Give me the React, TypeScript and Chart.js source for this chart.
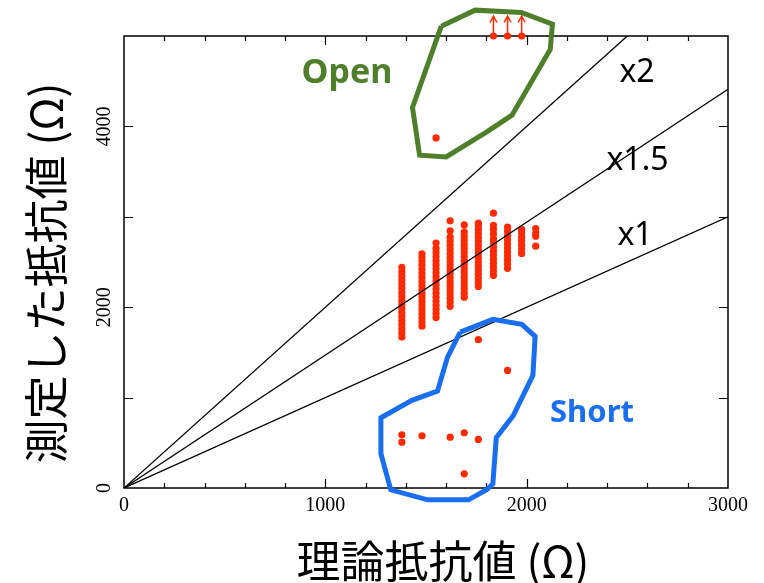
import React, { useEffect, useRef } from "react";
import { Chart, registerables } from "chart.js";

Chart.register(...registerables);

// ---- axis tick labels ----
const xTickLabels = [0, 1000, 2000, 3000];
const yTickLabels = [0, 2000, 4000];

// ---- reference ratio lines (measured = ratio × theoretical) ----
const ratioValues = [1, 1.47, 2];
const ratioNames = ["x1", "x1.5", "x2"];

// ---- measured resistance columns (theoretical Ω -> measured Ω list) ----
const columnX = [1380, 1480, 1550, 1620, 1690, 1760, 1835, 1905, 1975, 2045];
const col1380 = [1670, 1715, 1760, 1805, 1850, 1895, 1940, 1985, 2030, 2075, 2120, 2165, 2210, 2255, 2300, 2345, 2390, 2440];
const col1480 = [1790, 1835, 1880, 1925, 1970, 2015, 2060, 2105, 2150, 2195, 2240, 2285, 2330, 2375, 2420, 2465, 2510, 2550, 2590];
const col1550 = [1885, 1930, 1975, 2020, 2065, 2110, 2155, 2200, 2245, 2290, 2335, 2380, 2425, 2470, 2515, 2560, 2605, 2650, 2710];
const col1620 = [2010, 2055, 2100, 2145, 2190, 2235, 2280, 2325, 2370, 2415, 2460, 2505, 2550, 2595, 2640, 2685, 2730, 2775, 2845, 2955];
const col1690 = [2110, 2155, 2200, 2245, 2290, 2335, 2380, 2425, 2470, 2515, 2560, 2605, 2650, 2695, 2740, 2785, 2830, 2910];
const col1760 = [2230, 2275, 2320, 2365, 2410, 2455, 2500, 2545, 2590, 2635, 2680, 2725, 2770, 2815, 2860, 2900, 2930];
const col1835 = [2350, 2395, 2440, 2485, 2530, 2575, 2620, 2665, 2710, 2755, 2810, 2860, 2905, 3040];
const col1905 = [2430, 2475, 2520, 2565, 2610, 2655, 2700, 2745, 2790, 2840, 2885];
const col1975 = [2595, 2640, 2685, 2730, 2775, 2820, 2860];
const col2045 = [2675, 2785, 2820, 2870];
const columnValues = [col1380, col1480, col1550, col1620, col1690, col1760, col1835, col1905, col1975, col2045];

// ---- "Short" outliers ----
const shortX = [1760, 1905, 1380, 1380, 1480, 1620, 1690, 1760, 1690];
const shortY = [1641, 1301, 589, 507, 578, 562, 611, 537, 157];

// ---- "Open" outliers (values at 5000 are off-scale, shown with arrows) ----
const openX = [1550, 1835, 1905, 1975];
const openY = [3872, 5000, 5000, 5000];

// ---- group outlines ----
const openOutlineX = [1576, 1744, 1973, 2128, 2117, 1927, 1802, 1600, 1468, 1433];
const openOutlineY = [5109, 5286, 5261, 5131, 4851, 4124, 3939, 3662, 3681, 4209];
const shortOutlineX = [1670, 1832, 1976, 2042, 2031, 1934, 1849, 1832, 1801, 1711, 1508, 1325, 1276, 1276, 1430, 1557, 1607];
const shortOutlineY = [1725, 1865, 1810, 1677, 1245, 803, 556, 46, -20, -131, -131, -20, 379, 777, 969, 1072, 1448];

const RED = "#ff2a00";
const GREEN = "#4f7f2b";
const BLUE = "#1a6ef0";

const closed = (xs: number[], ys: number[]) => {
  const pts = xs.map((x, i) => ({ x, y: ys[i] }));
  pts.push({ x: xs[0], y: ys[0] });
  return pts;
};

const decorPlugin = {
  id: "decor",
  beforeDatasetsDraw(chart: any) {
    const { ctx, chartArea } = chart;
    const { left, right, top, bottom } = chartArea;
    const xs = chart.scales.x;
    const ys = chart.scales.y;
    ctx.save();
    ctx.strokeStyle = "#000";
    ctx.lineWidth = 1.5;
    ctx.strokeRect(left, top, right - left, bottom - top);
    ctx.lineWidth = 1.2;
    ctx.beginPath();
    xs.ticks.forEach((t: any) => {
      const v = t.value;
      if (v <= xs.min || v >= xs.max) return;
      const p = Math.round(xs.getPixelForValue(v)) + 0.5;
      const len = v % 1000 === 0 ? 9 : 5;
      ctx.moveTo(p, bottom);
      ctx.lineTo(p, bottom - len);
      ctx.moveTo(p, top);
      ctx.lineTo(p, top + len);
    });
    ys.ticks.forEach((t: any) => {
      const v = t.value;
      if (v <= ys.min || v >= ys.max) return;
      const p = Math.round(ys.getPixelForValue(v)) + 0.5;
      ctx.moveTo(left, p);
      ctx.lineTo(left + 9, p);
      ctx.moveTo(right, p);
      ctx.lineTo(right - 9, p);
    });
    ctx.stroke();
    ctx.restore();
  },
  afterDatasetsDraw(chart: any) {
    const { ctx } = chart;
    const xs = chart.scales.x;
    const ys = chart.scales.y;
    ctx.save();
    // arrows on off-scale open points
    ctx.strokeStyle = RED;
    ctx.lineWidth = 1.5;
    openX.forEach((x, i) => {
      if (openY[i] < ys.max) return;
      const px = xs.getPixelForValue(x);
      const py = ys.getPixelForValue(openY[i]);
      ctx.beginPath();
      ctx.moveTo(px, py - 3);
      ctx.lineTo(px, py - 20);
      ctx.moveTo(px - 3.5, py - 13.5);
      ctx.lineTo(px, py - 20);
      ctx.lineTo(px + 3.5, py - 13.5);
      ctx.stroke();
    });
    // tick labels
    ctx.fillStyle = "#000";
    ctx.font = '20px "Liberation Serif"';
    ctx.textAlign = "center";
    ctx.textBaseline = "alphabetic";
    xTickLabels.forEach((v) => {
      ctx.fillText(String(v), xs.getPixelForValue(v), 511);
    });
    yTickLabels.forEach((v) => {
      ctx.save();
      ctx.translate(110, ys.getPixelForValue(v));
      ctx.rotate(-Math.PI / 2);
      ctx.fillText(String(v), 0, 0);
      ctx.restore();
    });
    // ratio labels
    ctx.font = '32px "Noto Sans"';
    const ratioPos = [
      [635, 245],
      [637.5, 170],
      [637, 82],
    ];
    ratioNames.forEach((n, i) => ctx.fillText(n, ratioPos[i][0], ratioPos[i][1]));
    // group labels
    ctx.font = 'bold 34px "Noto Sans"';
    ctx.fillStyle = GREEN;
    ctx.fillText("Open", 347, 83);
    ctx.font = 'bold 31px "Noto Sans"';
    ctx.fillStyle = BLUE;
    ctx.fillText("Short", 592, 422);
    // axis titles
    ctx.fillStyle = "#000";
    ctx.font = '44px "Noto Sans CJK JP"';
    ctx.textBaseline = "middle";
    ctx.fillText("理論抵抗値 (Ω)", 443, 561);
    ctx.save();
    ctx.translate(46, 273);
    ctx.rotate(-Math.PI / 2);
    ctx.fillText("測定した抵抗値 (Ω)", 0, 0);
    ctx.restore();
    ctx.restore();
  },
};

export default function App() {
  const ref = useRef<HTMLCanvasElement | null>(null);
  useEffect(() => {
    if (!ref.current) return;
    const measured: { x: number; y: number }[] = [];
    columnX.forEach((x, i) => columnValues[i].forEach((y) => measured.push({ x, y })));
    const ratioDatasets = ratioValues.map((r, i) => ({
      label: ratioNames[i],
      data: [
        { x: 0, y: 0 },
        { x: Math.min(3000, 5000 / r), y: Math.min(3000, 5000 / r) * r },
      ],
      showLine: true,
      borderColor: "#000",
      borderWidth: 1.3,
      pointRadius: 0,
      order: 1,
    }));
    const chart = new Chart(ref.current, {
      type: "scatter",
      data: {
        datasets: [
          {
            label: "Open outline",
            data: closed(openOutlineX, openOutlineY),
            showLine: true,
            borderColor: GREEN,
            borderWidth: 5,
            pointRadius: 0,
            clip: false,
            order: 0,
          } as any,
          {
            label: "Short outline",
            data: closed(shortOutlineX, shortOutlineY),
            showLine: true,
            borderColor: BLUE,
            borderWidth: 5,
            pointRadius: 0,
            clip: false,
            order: 0,
          } as any,
          ...ratioDatasets,
          {
            label: "measured",
            data: measured,
            backgroundColor: RED,
            borderWidth: 0,
            pointRadius: 3.6,
            clip: false,
            order: 2,
          } as any,
          {
            label: "short",
            data: shortX.map((x, i) => ({ x, y: shortY[i] })),
            backgroundColor: RED,
            borderWidth: 0,
            pointRadius: 3.6,
            clip: false,
            order: 2,
          } as any,
          {
            label: "open",
            data: openX.map((x, i) => ({ x, y: openY[i] })),
            backgroundColor: RED,
            borderWidth: 0,
            pointRadius: 3.6,
            clip: false,
            order: 2,
          } as any,
        ],
      },
      options: {
        animation: false,
        responsive: true,
        maintainAspectRatio: false,
        layout: { padding: { left: 0, right: 36, top: 36, bottom: 0 } },
        plugins: { legend: { display: false }, tooltip: { enabled: false } },
        scales: {
          x: {
            type: "linear",
            min: 0,
            max: 3000,
            ticks: { stepSize: 200, display: false },
            grid: { display: false },
            border: { display: false },
            afterFit: (s: any) => {
              s.height = 95;
            },
          },
          y: {
            type: "linear",
            min: 0,
            max: 5000,
            ticks: { stepSize: 1000, display: false },
            grid: { display: false },
            border: { display: false },
            afterFit: (s: any) => {
              s.width = 124;
            },
          },
        },
      },
      plugins: [decorPlugin],
    });
    return () => chart.destroy();
  }, []);
  return (
    <div style={{ position: "absolute", left: 0, top: 0, width: 764, height: 583, background: "#fff" }}>
      <canvas ref={ref} />
    </div>
  );
}
